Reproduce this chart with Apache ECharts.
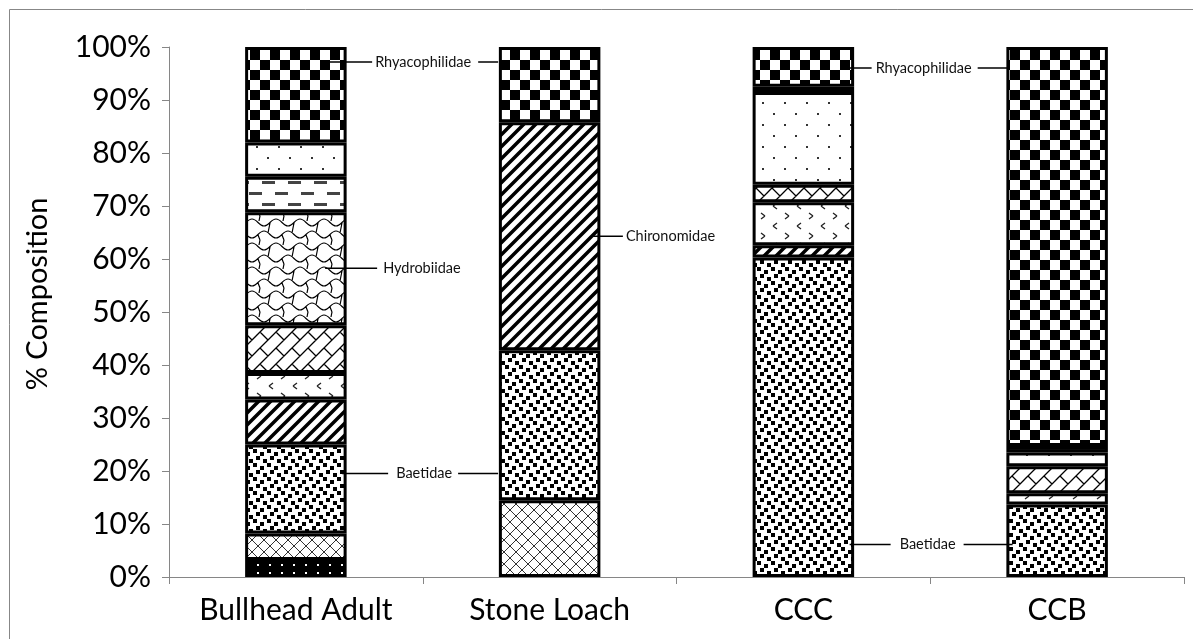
<!DOCTYPE html>
<html>
<head>
<meta charset="utf-8">
<script src="https://cdn.jsdelivr.net/npm/echarts@6/dist/echarts.min.js"></script>
<style>
  html, body { margin: 0; padding: 0; background: #fff; overflow: hidden; }
  #main { width: 1193px; height: 639px; }
</style>
</head>
<body>
<div id="main"></div>
<script>
// categories and % composition per taxon (bottom of the stack first)
const categories = ['Bullhead Adult', 'Stone Loach', 'CCC', 'CCB']
const darkDots = [3.2, 0, 0, 0]
const crossHatch = [5.0, 14.5, 0, 0]
const baetidae = [16.8, 28.3, 60.3, 13.7]
const chironomidae = [8.5, 43.0, 2.3, 0]
const chevrons = [5.0, 0, 8.1, 2.1]
const brick = [9.0, 0, 3.3, 5.1]
const hydrobiidae = [21.3, 0, 0, 0]
const dashes = [6.7, 0, 0, 0]
const sparseDots = [6.5, 0, 17.5, 2.6]
const darkBand = [0, 0, 1.0, 1.2]
const rhyacophilidae = [18.0, 14.2, 7.5, 75.3]
const yTicks = [0, 10, 20, 30, 40, 50, 60, 70, 80, 90, 100]

// fill patterns
function tile(w, h, draw) {
  const c = document.createElement('canvas')
  c.width = w
  c.height = h
  const g = c.getContext('2d')
  g.fillStyle = '#fff'
  g.fillRect(0, 0, w, h)
  draw(g)
  return { image: c, repeat: 'repeat' }
}
function lines(g, segs, width, color, size) {
  g.strokeStyle = color || '#000'
  g.lineWidth = width
  g.beginPath()
  const offs = size ? [-size, 0, size] : [0]
  offs.forEach(ox => offs.forEach(oy => {
    segs.forEach(s => { g.moveTo(s[0] + ox, s[1] + oy); g.lineTo(s[2] + ox, s[3] + oy) })
  }))
  g.stroke()
}

const pat = {
  checker: tile(20, 20, g => {
    g.fillStyle = '#000'
    g.fillRect(0, 0, 10, 10)
    g.fillRect(10, 10, 10, 10)
  }),
  sparse: tile(22, 22, g => {
    g.fillStyle = '#333'
    g.fillRect(3, 3, 2, 2)
    g.fillRect(14, 14, 2, 2)
  }),
  dashes: tile(26, 22, g => {
    g.fillStyle = '#444'
    g.fillRect(2, 5, 13, 3)
    g.fillRect(15, 16, 11, 3)
    g.fillRect(0, 16, 2, 3)
  }),
  wave: tile(24, 24, g => {
    g.strokeStyle = '#000'
    g.lineWidth = 1.2
    g.beginPath()
    g.moveTo(0, 10); g.bezierCurveTo(5, 10, 7, 3, 12, 3); g.bezierCurveTo(17, 3, 19, 10, 24, 10)
    g.moveTo(-12, 22); g.bezierCurveTo(-7, 22, -5, 15, 0, 15); g.bezierCurveTo(5, 15, 7, 22, 12, 22)
    g.bezierCurveTo(17, 22, 19, 15, 24, 15); g.bezierCurveTo(29, 15, 31, 22, 36, 22)
    g.moveTo(6, 7); g.lineTo(4, 17)
    g.moveTo(18, 19); g.lineTo(20, 24)
    g.moveTo(20, 0); g.lineTo(19, 5)
    g.stroke()
  }),
  brick: tile(32, 32, g => {
    lines(g, [
      [-16, 16, 16, -16], [0, 16, 16, 0], [0, 32, 32, 0], [16, 32, 32, 16], [16, 48, 48, 16],
      [4, 12, 12, 20], [20, -4, 28, 4], [20, 12, 28, 20], [4, 28, 12, 36]
    ], 1.3, '#000', 32)
  }),
  chevron: tile(24, 20, g => {
    lines(g, [[9, 3, 5, 6], [5, 6, 9, 9], [17, 13, 21, 16], [21, 16, 17, 19]], 1.3, '#222')
  }),
  stripes: tile(12, 12, g => {
    lines(g, [[-1, 13, 13, -1], [-7, 7, 7, -7], [5, 19, 19, 5]], 3.5)
  }),
  squares: tile(14, 14, g => {
    g.fillStyle = '#000'
    const pts = [[1, 1], [8, 4], [4, 8], [11, 11]]
    pts.forEach(p => {
      [-14, 0, 14].forEach(ox => [-14, 0, 14].forEach(oy => g.fillRect(p[0] + ox, p[1] + oy, 4, 4)))
    })
  }),
  cross: tile(12, 12, g => {
    lines(g, [[0, 0, 12, 12], [0, 12, 12, 0]], 1, '#333')
  }),
  darkDots: tile(12, 8, g => {
    g.fillStyle = '#000'
    g.fillRect(0, 0, 12, 8)
    g.fillStyle = '#fff'
    g.fillRect(5, 4, 2, 2)
  }),
  darkBand: '#111'
}

// callout labels: [category, x offset, y offset in segment, left line, pad left, pad right, right line]
const callouts = {
  rhyacophilidae: [[0, 82, 15, 45, 3, 7, 20], [2, 97, 21, 22, 4, 6, 31]],
  hydrobiidae: [[0, 80, 56, 52, 6, 0, 0]],
  baetidae: [[0, 97, 29, 46, 8, 6, 40], [2, 97, 287, 41, 9, 8, 49]],
  chironomidae: [[1, 94, 114, 30, 3, 0, 0]]
}

function seriesData(values, key, text) {
  const marks = callouts[key] || []
  return values.map((v, i) => {
    const val = v === 0 ? null : v
    const c = marks.find(m => m[0] === i)
    if (!c) return val
    let fmt = '{l| }{t|' + text + '}'
    if (c[6]) fmt += '{r| }'
    return {
      value: val,
      label: {
        show: true,
        position: [c[1], c[2]],
        align: 'left',
        verticalAlign: 'middle',
        formatter: fmt,
        rich: {
          l: { width: c[3], height: 1.5, backgroundColor: '#000', verticalAlign: 'middle' },
          t: { fontSize: 14.5, fontFamily: 'Lato', color: '#111', padding: [0, c[5], 0, c[4]], verticalAlign: 'middle' },
          r: { width: c[6], height: 1.5, backgroundColor: '#000', verticalAlign: 'middle' }
        }
      }
    }
  })
}

const layers = [
  ['Dark taxon', darkDots, pat.darkDots],
  ['Cross taxon', crossHatch, pat.cross],
  ['Baetidae', baetidae, pat.squares, 'baetidae'],
  ['Chironomidae', chironomidae, pat.stripes, 'chironomidae'],
  ['Chevron taxon', chevrons, pat.chevron],
  ['Brick taxon', brick, pat.brick],
  ['Hydrobiidae', hydrobiidae, pat.wave, 'hydrobiidae'],
  ['Dash taxon', dashes, pat.dashes],
  ['Dotted taxon', sparseDots, pat.sparse],
  ['Band taxon', darkBand, pat.darkBand],
  ['Rhyacophilidae', rhyacophilidae, pat.checker, 'rhyacophilidae']
]

var myChart = echarts.init(document.getElementById('main'))
let option = {
  backgroundColor: '#fff',
  animation: false,
  graphic: [
    {
      type: 'rect',
      shape: { x: 9.5, y: 9.5, width: 1300, height: 800 },
      style: { fill: 'none', stroke: '#878787', lineWidth: 1 },
      silent: true
    }
  ],
  grid: { left: 169, right: 9, top: 47, bottom: 62 },
  xAxis: {
    type: 'category',
    data: categories,
    axisLine: { lineStyle: { color: '#868686', width: 1 } },
    axisTick: { show: true, length: 7, lineStyle: { color: '#868686' } },
    axisLabel: { color: '#000', fontSize: 30, fontFamily: 'Lato', margin: 18 }
  },
  yAxis: {
    type: 'value',
    min: 0,
    max: 100,
    interval: 10,
    name: '% Composition',
    nameLocation: 'middle',
    nameRotate: 90,
    nameGap: 117,
    nameTextStyle: { color: '#000', fontSize: 29, fontFamily: 'Lato', padding: [0, 0, 0, 36] },
    axisLine: { show: true, lineStyle: { color: '#868686', width: 1 } },
    axisTick: { show: true, length: 7, lineStyle: { color: '#868686' } },
    splitLine: { show: false },
    axisLabel: {
      color: '#000',
      fontSize: 30,
      fontFamily: 'Lato',
      margin: 18,
      formatter: v => (yTicks.indexOf(v) >= 0 ? v + '%' : '')
    }
  },
  series: layers.map(l => ({
    name: l[0],
    type: 'bar',
    stack: 'total',
    barWidth: '40%',
    data: seriesData(l[1], l[3], l[0]),
    itemStyle: { color: l[2], borderColor: '#000', borderWidth: 3 }
  }))
}
myChart.setOption(option)
</script>
</body>
</html>
